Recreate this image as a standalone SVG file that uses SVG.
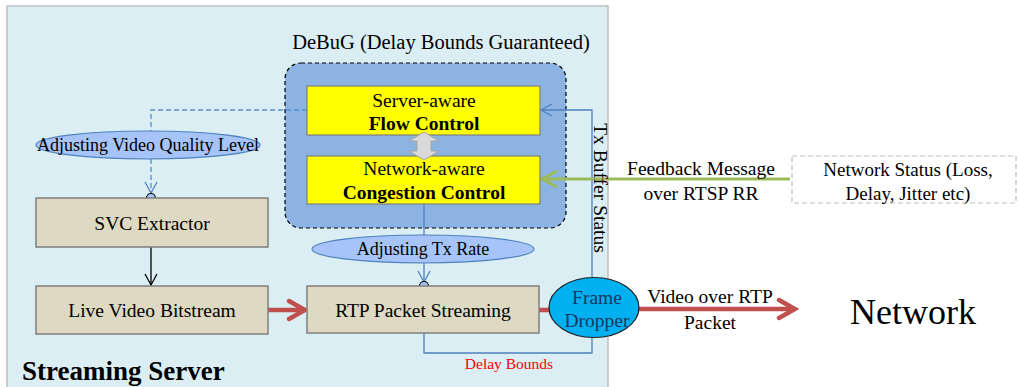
<svg xmlns="http://www.w3.org/2000/svg" width="1018" height="387" viewBox="0 0 1018 387">
<style>
text{font-family:"Liberation Serif","Times New Roman",serif;fill:#000;}
.t{font-size:19.5px;}
.e{font-size:18px;}
.b{font-weight:bold;}
.proc{fill:#DDD9C3;stroke:#7F7F7F;stroke-width:1.5;}
.yel{fill:#FFFF00;stroke:#7F7F7F;stroke-width:1.2;}
.ell{fill:#A6C4F8;stroke:#4F81BD;stroke-width:1.2;}
.blue{fill:none;stroke:#4F81BD;stroke-width:1.3;}
.bdash{fill:none;stroke:#558ED5;stroke-width:1.3;stroke-dasharray:5,3;}
.red{fill:none;stroke:#C0504D;stroke-width:4.5;}
</style>
<defs>
<marker id="openB" markerWidth="14" markerHeight="14" refX="12" refY="7" orient="auto" markerUnits="userSpaceOnUse"><path d="M1,1 L12,7 L1,13" fill="none" stroke="#4F81BD" stroke-width="1.3"/></marker>
<marker id="openK" markerWidth="14" markerHeight="14" refX="12" refY="7" orient="auto" markerUnits="userSpaceOnUse"><path d="M1,1 L12,7 L1,13" fill="none" stroke="#000" stroke-width="1.3"/></marker>
<marker id="openG" markerWidth="20" markerHeight="20" refX="17" refY="10" orient="auto" markerUnits="userSpaceOnUse"><path d="M2,2 L17,10 L2,18" fill="none" stroke="#9BBB59" stroke-width="3"/></marker>
<marker id="openR" markerWidth="24" markerHeight="24" refX="20" refY="12" orient="auto" markerUnits="userSpaceOnUse"><path d="M4,3 L20,12 L4,21" fill="none" stroke="#C0504D" stroke-width="4.5" stroke-linecap="round"/></marker>
</defs>
<rect width="1018" height="387" fill="#fff"/>
<g id="streaming-server">
<rect x="7" y="6" width="601" height="390" fill="#DAEEF3" stroke="#BFBFBF" stroke-width="1.5"/>
<text x="22" y="380" class="b" font-size="27">Streaming Server</text>
</g>
<g id="debug">
<rect x="285" y="63" width="281" height="165" rx="16" fill="#8DB3E2" stroke="#000" stroke-width="1.2" stroke-dasharray="4,3"/>
<text x="441" y="49" font-size="20.5" text-anchor="middle">DeBuG (Delay Bounds Guaranteed)</text>
</g>
<g id="connectors">
<path class="bdash" d="M307,110 H151 V131"/>
<path class="bdash" d="M151,159 V193" marker-end="url(#openB)"/>
<path d="M151,247 V285" fill="none" stroke="#000" stroke-width="1.3" marker-end="url(#openK)"/>
<path class="blue" d="M424,204 V235"/>
<path class="blue" d="M424,263 V282" marker-end="url(#openB)"/>
<path class="blue" d="M592,277 V110 H541" marker-end="url(#openB)"/>
<path class="blue" d="M424,333 V353 H592 V338"/>
<path d="M790,179 H542" fill="none" stroke="#9BBB59" stroke-width="3" marker-end="url(#openG)"/>
<path class="red" d="M268,310 H305" marker-end="url(#openR)"/>
<path class="red" d="M539,310 H551"/>
<path class="red" d="M636,309 H795" marker-end="url(#openR)"/>
<circle cx="151" cy="198" r="4.5" fill="#A6C4F8" stroke="#000" stroke-width="1.2"/>
<circle cx="424" cy="286" r="4.5" fill="#A6C4F8" stroke="#000" stroke-width="1.2"/>
<text x="509" y="369" font-size="15.5" text-anchor="middle" style="fill:#FF0000">Delay Bounds</text>
<text x="701" y="175" class="t" text-anchor="middle">Feedback Message</text>
<text x="701" y="200" class="t" text-anchor="middle">over RTSP RR</text>
<text x="710" y="303" class="t" text-anchor="middle">Video over RTP</text>
<text x="710" y="329" class="t" text-anchor="middle">Packet</text>
<text transform="translate(594,188) rotate(90)" class="t" text-anchor="middle">Tx Buffer Status</text>
</g>
<g id="flow-control">
<rect class="yel" x="307" y="86" width="233" height="49"/>
<text x="424" y="107" class="t" text-anchor="middle">Server-aware</text>
<text x="424" y="130" class="t b" text-anchor="middle">Flow Control</text>
</g>
<g id="congestion-control">
<rect class="yel" x="307" y="156" width="233" height="48"/>
<text x="424" y="175" class="t" text-anchor="middle">Network-aware</text>
<text x="424" y="199" class="t b" text-anchor="middle">Congestion Control</text>
</g>
<g id="double-arrow">
<polygon points="424,132 439,141 431,141 431,151 439,151 424,160 409,151 417,151 417,141 409,141" fill="#D9D9D9" stroke="#A6A6A6" stroke-width="1"/>
</g>
<g id="adjust-quality">
<ellipse class="ell" cx="148" cy="145" rx="112" ry="14"/>
<text x="148" y="151" class="e" text-anchor="middle">Adjusting Video Quality Level</text>
</g>
<g id="svc-extractor">
<rect class="proc" x="36" y="198" width="232" height="49"/>
<text x="152" y="229.5" class="t" text-anchor="middle">SVC Extractor</text>
</g>
<g id="live-video">
<rect class="proc" x="36" y="286" width="232" height="48"/>
<text x="152" y="317" class="t" text-anchor="middle">Live Video Bitstream</text>
</g>
<g id="adjust-tx">
<ellipse class="ell" cx="423" cy="249" rx="111" ry="14"/>
<text x="423" y="255" class="e" text-anchor="middle">Adjusting Tx Rate</text>
</g>
<g id="rtp-streaming">
<rect class="proc" x="307" y="286" width="232" height="47"/>
<text x="423" y="317" class="t" text-anchor="middle">RTP Packet Streaming</text>
</g>
<g id="frame-dropper">
<ellipse cx="594" cy="307.5" rx="45" ry="30" fill="#00B0F0" stroke="#1F1F1F" stroke-width="1.2"/>
<text x="597" y="304" class="t" text-anchor="middle" style="fill:#17375E">Frame</text>
<text x="597" y="327" class="t" text-anchor="middle" style="fill:#17375E">Dropper</text>
</g>
<g id="network-status">
<rect x="792" y="156" width="224" height="47" fill="#fff" stroke="#BFBFBF" stroke-width="1.2" stroke-dasharray="5,3"/>
<text x="908" y="175.5" font-size="19" text-anchor="middle">Network Status (Loss,</text>
<text x="908" y="199.5" font-size="19" text-anchor="middle">Delay, Jitter etc)</text>
</g>
<g id="network">
<text x="913" y="324" font-size="36" text-anchor="middle">Network</text>
</g>
</svg>
